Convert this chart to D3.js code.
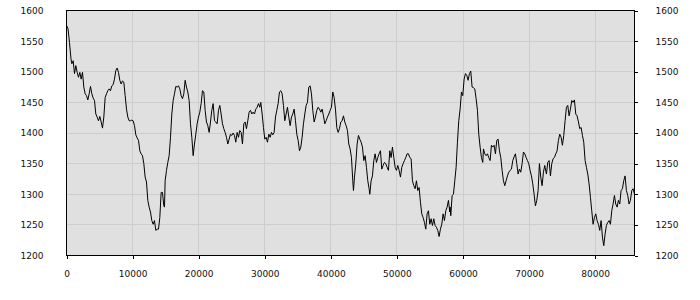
<!DOCTYPE html>
<html>
<head>
<meta charset="utf-8">
<script src="https://cdn.jsdelivr.net/npm/d3@7"></script>
<style>
  html, body { margin: 0; padding: 0; background: #fff; overflow: hidden; }
  svg { display: block; }
  svg text { font-family: "DejaVu Sans", sans-serif; font-size: 9px; fill: #111; }
</style>
</head>
<body>
<svg id="chart"></svg>
<script>
// x positions of the samples
const xValues = [
    0, 230, 450, 680, 807, 1009, 1210, 1412, 1614, 1815, 2017, 2219, 2421, 2622, 2824, 3026, 3227, 3429, 3631, 3833,
    4034, 4236, 4438, 4640, 4841, 5043, 5245, 5446, 5648, 5850, 6052, 6253, 6455, 6657, 6858, 7060, 7262, 7464, 7665, 7867,
    8069, 8271, 8472, 8674, 8876, 9077, 9279, 9481, 9683, 9884, 10086, 10288, 10489, 10691, 10893, 11095, 11296, 11498, 11700, 11902,
    12103, 12305, 12507, 12709, 12910, 13112, 13314, 13515, 13717, 13919, 14121, 14322, 14524, 14726, 14827, 14928, 15130, 15331, 15533, 15735,
    15937, 16138, 16340, 16542, 16744, 16945, 17147, 17349, 17550, 17752, 17954, 18156, 18357, 18559, 18761, 18963, 19164, 19366, 19568, 19769,
    19971, 20173, 20375, 20576, 20778, 20980, 21181, 21383, 21585, 21787, 21988, 22190, 22392, 22594, 22795, 22997, 23199, 23400, 23602, 23804,
    24006, 24207, 24409, 24611, 24813, 25014, 25216, 25418, 25619, 25821, 26023, 26225, 26426, 26628, 26830, 27031, 27233, 27435, 27637, 27838,
    28040, 28242, 28444, 28645, 28847, 29049, 29250, 29403, 29605, 29806, 30008, 30210, 30412, 30613, 30815, 31017, 31218, 31420, 31622, 31824,
    32025, 32227, 32429, 32630, 32832, 33034, 33236, 33437, 33639, 33841, 34043, 34244, 34446, 34648, 34849, 35051, 35253, 35455, 35656, 35858,
    36060, 36261, 36463, 36665, 36867, 37068, 37270, 37472, 37674, 37875, 38077, 38279, 38480, 38682, 38884, 39086, 39287, 39489, 39691, 39892,
    40094, 40296, 40498, 40699, 40901, 41103, 41305, 41506, 41708, 41910, 42111, 42313, 42515, 42717, 42918, 43120, 43322, 43423, 43574, 43776,
    43978, 44179, 44381, 44583, 44784, 44986, 45188, 45390, 45591, 45793, 45894, 46096, 46297, 46499, 46701, 46903, 47104, 47306, 47508, 47709,
    47911, 48113, 48315, 48516, 48718, 48920, 49122, 49323, 49525, 49727, 49928, 50130, 50332, 50534, 50735, 50937, 51139, 51341, 51542, 51744,
    51946, 52147, 52349, 52551, 52753, 52954, 53156, 53358, 53559, 53761, 53963, 54165, 54366, 54568, 54770, 54971, 55173, 55375, 55577, 55778,
    55980, 56182, 56383, 56585, 56787, 56989, 57190, 57392, 57594, 57796, 57997, 58049, 58150, 58352, 58553, 58755, 58957, 59158, 59360, 59562,
    59764, 59965, 60167, 60369, 60571, 60772, 60974, 61176, 61377, 61579, 61781, 61983, 62184, 62386, 62588, 62790, 62991, 63092, 63294, 63495,
    63697, 63899, 64101, 64302, 64504, 64706, 64907, 65109, 65311, 65513, 65714, 65916, 66118, 66320, 66521, 66723, 66925, 67126, 67328, 67530,
    67732, 67933, 68135, 68337, 68539, 68740, 68942, 69144, 69345, 69547, 69749, 69951, 70152, 70354, 70556, 70758, 70959, 71161, 71363, 71565,
    71766, 71968, 72170, 72371, 72422, 72624, 72825, 73027, 73229, 73431, 73632, 73834, 74036, 74238, 74439, 74641, 74843, 75044, 75246, 75448,
    75650, 75851, 76053, 76255, 76457, 76658, 76860, 77062, 77263, 77465, 77667, 77869, 78070, 78272, 78474, 78676, 78877, 79079, 79281, 79483,
    79684, 79886, 80088, 80289, 80491, 80693, 80895, 81096, 81298, 81500, 81701, 81903, 82105, 82307, 82508, 82710, 82912, 83114, 83315, 83517,
    83719, 83920, 84122, 84324, 84525, 84727, 84929, 85131, 85332, 85534, 85736, 85950
];

// sampled values
const yValues = [
    1576, 1570, 1548, 1521, 1513, 1518, 1497, 1510, 1499, 1491, 1499, 1488, 1499, 1475, 1464, 1461, 1454, 1464, 1476, 1464,
    1457, 1453, 1431, 1426, 1420, 1427, 1418, 1408, 1426, 1458, 1464, 1469, 1472, 1469, 1477, 1479, 1488, 1502, 1506, 1499,
    1486, 1480, 1485, 1483, 1461, 1439, 1426, 1420, 1420, 1421, 1420, 1412, 1397, 1392, 1388, 1371, 1366, 1363, 1350, 1328,
    1320, 1290, 1279, 1271, 1257, 1251, 1257, 1241, 1243, 1243, 1262, 1303, 1303, 1281, 1279, 1322, 1339, 1352, 1363, 1393,
    1431, 1453, 1464, 1476, 1475, 1477, 1472, 1461, 1456, 1464, 1486, 1475, 1467, 1453, 1415, 1393, 1363, 1382, 1398, 1415,
    1426, 1434, 1448, 1469, 1467, 1437, 1418, 1412, 1401, 1418, 1437, 1448, 1420, 1418, 1415, 1437, 1445, 1431, 1415, 1407,
    1401, 1393, 1382, 1390, 1398, 1396, 1400, 1396, 1385, 1401, 1393, 1404, 1401, 1382, 1415, 1418, 1407, 1420, 1434, 1437,
    1431, 1434, 1431, 1439, 1442, 1448, 1442, 1450, 1431, 1409, 1390, 1393, 1385, 1398, 1393, 1401, 1397, 1401, 1426, 1437,
    1448, 1467, 1469, 1464, 1445, 1420, 1431, 1442, 1426, 1412, 1426, 1431, 1439, 1420, 1398, 1388, 1371, 1377, 1393, 1415,
    1431, 1445, 1450, 1475, 1477, 1464, 1437, 1418, 1426, 1437, 1442, 1439, 1434, 1439, 1428, 1415, 1420, 1426, 1431, 1437,
    1442, 1467, 1458, 1439, 1409, 1401, 1407, 1418, 1420, 1428, 1418, 1412, 1404, 1382, 1374, 1360, 1322, 1306, 1328, 1350,
    1382, 1396, 1390, 1385, 1377, 1355, 1363, 1344, 1322, 1309, 1300, 1322, 1330, 1355, 1366, 1352, 1360, 1366, 1371, 1341,
    1347, 1352, 1350, 1344, 1339, 1371, 1360, 1377, 1360, 1344, 1339, 1347, 1339, 1328, 1344, 1350, 1355, 1360, 1366, 1366,
    1360, 1358, 1322, 1314, 1309, 1322, 1306, 1311, 1287, 1268, 1262, 1254, 1243, 1268, 1273, 1251, 1260, 1249, 1260, 1249,
    1246, 1241, 1231, 1243, 1251, 1268, 1257, 1273, 1279, 1290, 1271, 1279, 1265, 1298, 1300, 1322, 1344, 1385, 1420, 1439,
    1467, 1461, 1488, 1497, 1494, 1486, 1497, 1501, 1475, 1474, 1472, 1456, 1437, 1398, 1377, 1360, 1352, 1374, 1366, 1363,
    1366, 1360, 1355, 1380, 1377, 1380, 1366, 1388, 1390, 1371, 1360, 1339, 1322, 1314, 1322, 1330, 1336, 1339, 1341, 1355,
    1361, 1366, 1350, 1333, 1341, 1336, 1350, 1369, 1366, 1360, 1355, 1350, 1339, 1330, 1317, 1300, 1281, 1290, 1306, 1350,
    1328, 1314, 1336, 1347, 1344, 1333, 1352, 1355, 1330, 1350, 1358, 1360, 1366, 1371, 1388, 1398, 1393, 1380, 1396, 1420,
    1442, 1445, 1428, 1439, 1453, 1450, 1454, 1431, 1428, 1418, 1407, 1409, 1396, 1385, 1355, 1344, 1333, 1317, 1295, 1273,
    1251, 1262, 1268, 1257, 1251, 1241, 1257, 1230, 1216, 1235, 1249, 1254, 1257, 1251, 1273, 1284, 1298, 1284, 1279, 1290,
    1284, 1306, 1309, 1322, 1330, 1306, 1298, 1284, 1290, 1306, 1309, 1300
];

const xTicks = [0, 10000, 20000, 30000, 40000, 50000, 60000, 70000, 80000];
const yTicks = [1200, 1250, 1300, 1350, 1400, 1450, 1500, 1550, 1600];

const dimensions = {
    width: 700,
    height: 300,
    margin: { top: 10, right: 66, bottom: 45, left: 66 }
};
const innerWidth = dimensions.width - dimensions.margin.left - dimensions.margin.right;
const innerHeight = dimensions.height - dimensions.margin.top - dimensions.margin.bottom;

const data = xValues.map((x, i) => ({ x: x, y: yValues[i] }));

const xScale = d3.scaleLinear()
    .domain([0, d3.max(xValues)])
    .range([0, innerWidth]);

const yScale = d3.scaleLinear()
    .domain([1200, 1600])
    .range([innerHeight, 0]);

const svg = d3.select("#chart")
    .attr("width", dimensions.width)
    .attr("height", dimensions.height);

const plot = svg.append("g")
    .attr("transform", `translate(${dimensions.margin.left + 0.5}, ${dimensions.margin.top + 0.5})`);

// background
plot.append("rect")
    .attr("width", innerWidth)
    .attr("height", innerHeight)
    .attr("fill", "#e0e0e0");

// grid
plot.append("g")
    .selectAll("line")
    .data(xTicks.slice(1))
    .join("line")
    .attr("x1", d => Math.round(xScale(d)))
    .attr("x2", d => Math.round(xScale(d)))
    .attr("y1", 0)
    .attr("y2", innerHeight)
    .attr("stroke", "#cdcdcd")
    .attr("shape-rendering", "crispEdges");

plot.append("g")
    .selectAll("line")
    .data(yTicks.slice(1, -1))
    .join("line")
    .attr("x1", 0)
    .attr("x2", innerWidth)
    .attr("y1", d => Math.round(yScale(d)))
    .attr("y2", d => Math.round(yScale(d)))
    .attr("stroke", "#cdcdcd")
    .attr("shape-rendering", "crispEdges");

// series
const line = d3.line()
    .x(d => xScale(d.x))
    .y(d => yScale(d.y));

plot.append("path")
    .datum(data)
    .attr("d", line)
    .attr("fill", "none")
    .attr("stroke", "#000")
    .attr("stroke-width", 1);

// frame
plot.append("rect")
    .attr("width", innerWidth)
    .attr("height", innerHeight)
    .attr("fill", "none")
    .attr("stroke", "#000")
    .attr("shape-rendering", "crispEdges");

// axes
const xAxis = plot.append("g")
    .attr("transform", `translate(0, ${innerHeight})`)
    .call(d3.axisBottom(xScale).tickValues(xTicks).tickSize(3).tickPadding(12).tickFormat(d3.format("d")));

const yAxisLeft = plot.append("g")
    .call(d3.axisLeft(yScale).tickValues(yTicks).tickSize(0).tickPadding(23).tickFormat(d3.format("d")));

const yAxisRight = plot.append("g")
    .attr("transform", `translate(${innerWidth}, 0)`)
    .call(d3.axisRight(yScale).tickValues(yTicks).tickSize(3).tickPadding(18).tickFormat(d3.format("d")));

[xAxis, yAxisLeft, yAxisRight].forEach(g => {
    g.select(".domain").remove();
    g.selectAll("line").attr("stroke", "#000").attr("shape-rendering", "crispEdges");
    g.selectAll("text").attr("fill", "#111").style("font-size", "9px").style("font-family", "DejaVu Sans");
});
</script>
</body>
</html>
